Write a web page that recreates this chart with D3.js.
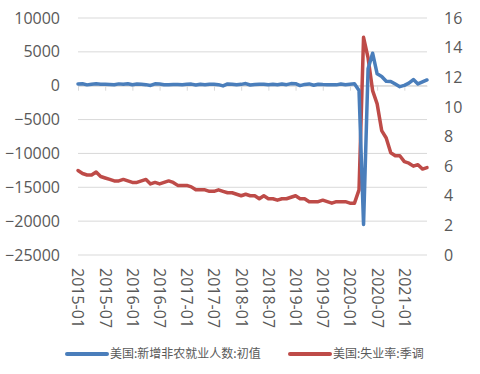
<!DOCTYPE html>
<html lang="zh">
<head>
<meta charset="utf-8">
<script src="https://cdn.jsdelivr.net/npm/d3@7/dist/d3.min.js"></script>
<style>
  body { margin: 0; background: #fff; }
  text { font-family: "Open Sans", "Liberation Sans", sans-serif; fill: #595959; }
  .legend text { font-family: "Noto Sans CJK SC", sans-serif; }
</style>
</head>
<body>
<script>
// monthly, 2015-01 .. 2021-06
var months = d3.utcMonths(new Date(Date.UTC(2015, 0, 1)), new Date(Date.UTC(2021, 6, 1)))
  .map(d3.utcFormat("%Y-%m"));

// 美国:新增非农就业人数:初值 (千人)
var payrolls = [
  257, 295, 126, 223, 280, 223, 215, 173, 142, 271, 211, 292,
  151, 242, 215, 160, 38, 287, 255, 151, 156, 161, 178, 156,
  227, 235, 98, 211, 138, 222, 209, 156, -33, 261, 228, 148,
  200, 313, 103, 164, 223, 213, 157, 201, 134, 250, 155, 312,
  304, 20, 196, 263, 75, 224, 164, 130, 136, 128, 266, 145,
  225, 273, -701, -20500, 2509, 4800, 1763, 1371, 661, 638, 245, -140,
  49, 379, 916, 266, 559, 850
];

// 美国:失业率:季调 (%)
var unemployment = [
  5.7, 5.5, 5.4, 5.4, 5.6, 5.3, 5.2, 5.1, 5.0, 5.0, 5.1, 5.0,
  4.9, 4.9, 5.0, 5.1, 4.8, 4.9, 4.8, 4.9, 5.0, 4.9, 4.7, 4.7,
  4.7, 4.6, 4.4, 4.4, 4.4, 4.3, 4.3, 4.4, 4.3, 4.2, 4.2, 4.1,
  4.0, 4.1, 4.0, 4.0, 3.8, 4.0, 3.8, 3.8, 3.7, 3.8, 3.8, 3.9,
  4.0, 3.8, 3.8, 3.6, 3.6, 3.6, 3.7, 3.6, 3.5, 3.6, 3.6, 3.6,
  3.5, 3.5, 4.4, 14.7, 13.3, 11.1, 10.2, 8.4, 7.9, 6.9, 6.7, 6.7,
  6.3, 6.2, 6.0, 6.1, 5.8, 5.9
];

var leftTicks = [10000, 5000, 0, -5000, -10000, -15000, -20000, -25000];
var rightTicks = [16, 14, 12, 10, 8, 6, 4, 2, 0];
var tickLabels = months.filter(function(d, i) { return i % 6 === 0; });

var seriesNames = ["美国:新增非农就业人数:初值", "美国:失业率:季调"];
var colors = ["#4a7ebb", "#be4b48"];

var width = 480, height = 374;
var plotL = 78, plotR = 427, plotT = 18, plotB = 255;

var svg = d3.select("body").append("svg")
    .attr("width", width)
    .attr("height", height);

var x = d3.scalePoint().domain(months).range([plotL, plotR]);
var yL = d3.scaleLinear().domain([-25000, 10000]).range([plotB, plotT]);
var yR = d3.scaleLinear().domain([0, 16]).range([plotB, plotT]);

// gridlines
svg.append("g")
  .selectAll("line")
  .data(leftTicks)
  .enter().append("line")
    .attr("x1", plotL).attr("x2", plotR)
    .attr("y1", function(d) { return yL(d); })
    .attr("y2", function(d) { return yL(d); })
    .attr("stroke", "#d9d9d9")
    .attr("stroke-width", 1);

// left axis
var gl = svg.append("g")
    .attr("transform", "translate(" + plotL + ",0)")
    .call(d3.axisLeft(yL).tickValues(leftTicks).tickFormat(d3.format("d")).tickSize(0).tickPadding(18));
gl.select(".domain").remove();
gl.selectAll("text").style("font-size", "16px").attr("fill", "#595959");

// right axis
var gr = svg.append("g")
    .attr("transform", "translate(" + plotR + ",0)")
    .call(d3.axisRight(yR).tickValues(rightTicks).tickFormat(d3.format("d")).tickSize(0).tickPadding(17));
gr.select(".domain").remove();
gr.selectAll("text").style("font-size", "16px").attr("fill", "#595959");

// category axis crossing at zero, ticks below
var gx = svg.append("g")
    .attr("transform", "translate(0," + yL(0) + ")")
    .call(d3.axisBottom(x).tickValues(tickLabels).tickSize(5).tickSizeOuter(0).tickFormat(""));
gx.select(".domain").attr("stroke", "#d9d9d9");
gx.selectAll(".tick line").attr("stroke", "#d9d9d9");

// category labels at bottom, rotated
svg.append("g")
  .selectAll("text")
  .data(tickLabels)
  .enter().append("text")
    .attr("transform", function(d) { return "translate(" + x(d) + "," + (plotB + 13) + ") rotate(90)"; })
    .attr("dy", "0.35em")
    .style("font-size", "16px")
    .text(function(d) { return d; });

var lineL = d3.line()
    .x(function(d, i) { return x(months[i]); })
    .y(function(d) { return yL(d); });
var lineR = d3.line()
    .x(function(d, i) { return x(months[i]); })
    .y(function(d) { return yR(d); });

svg.append("path")
    .datum(unemployment)
    .attr("d", lineR)
    .attr("fill", "none")
    .attr("stroke", colors[1])
    .attr("stroke-width", 3.5)
    .attr("stroke-linejoin", "round")
    .attr("stroke-linecap", "round");

svg.append("path")
    .datum(payrolls)
    .attr("d", lineL)
    .attr("fill", "none")
    .attr("stroke", colors[0])
    .attr("stroke-width", 3.5)
    .attr("stroke-linejoin", "round")
    .attr("stroke-linecap", "round");

// legend
var legendX = [67, 290];
var lg = svg.append("g").attr("class", "legend")
  .selectAll("g")
  .data(seriesNames)
  .enter().append("g")
    .attr("transform", function(d, i) { return "translate(" + legendX[i] + ",354)"; });
lg.append("line")
    .attr("x1", 0).attr("x2", 40)
    .attr("stroke", function(d, i) { return colors[i]; })
    .attr("stroke-width", 4)
    .attr("stroke-linecap", "round");
lg.append("text")
    .attr("x", 43)
    .attr("dy", "0.35em")
    .style("font-size", "12px")
    .text(function(d) { return d; });
</script>
</body>
</html>
